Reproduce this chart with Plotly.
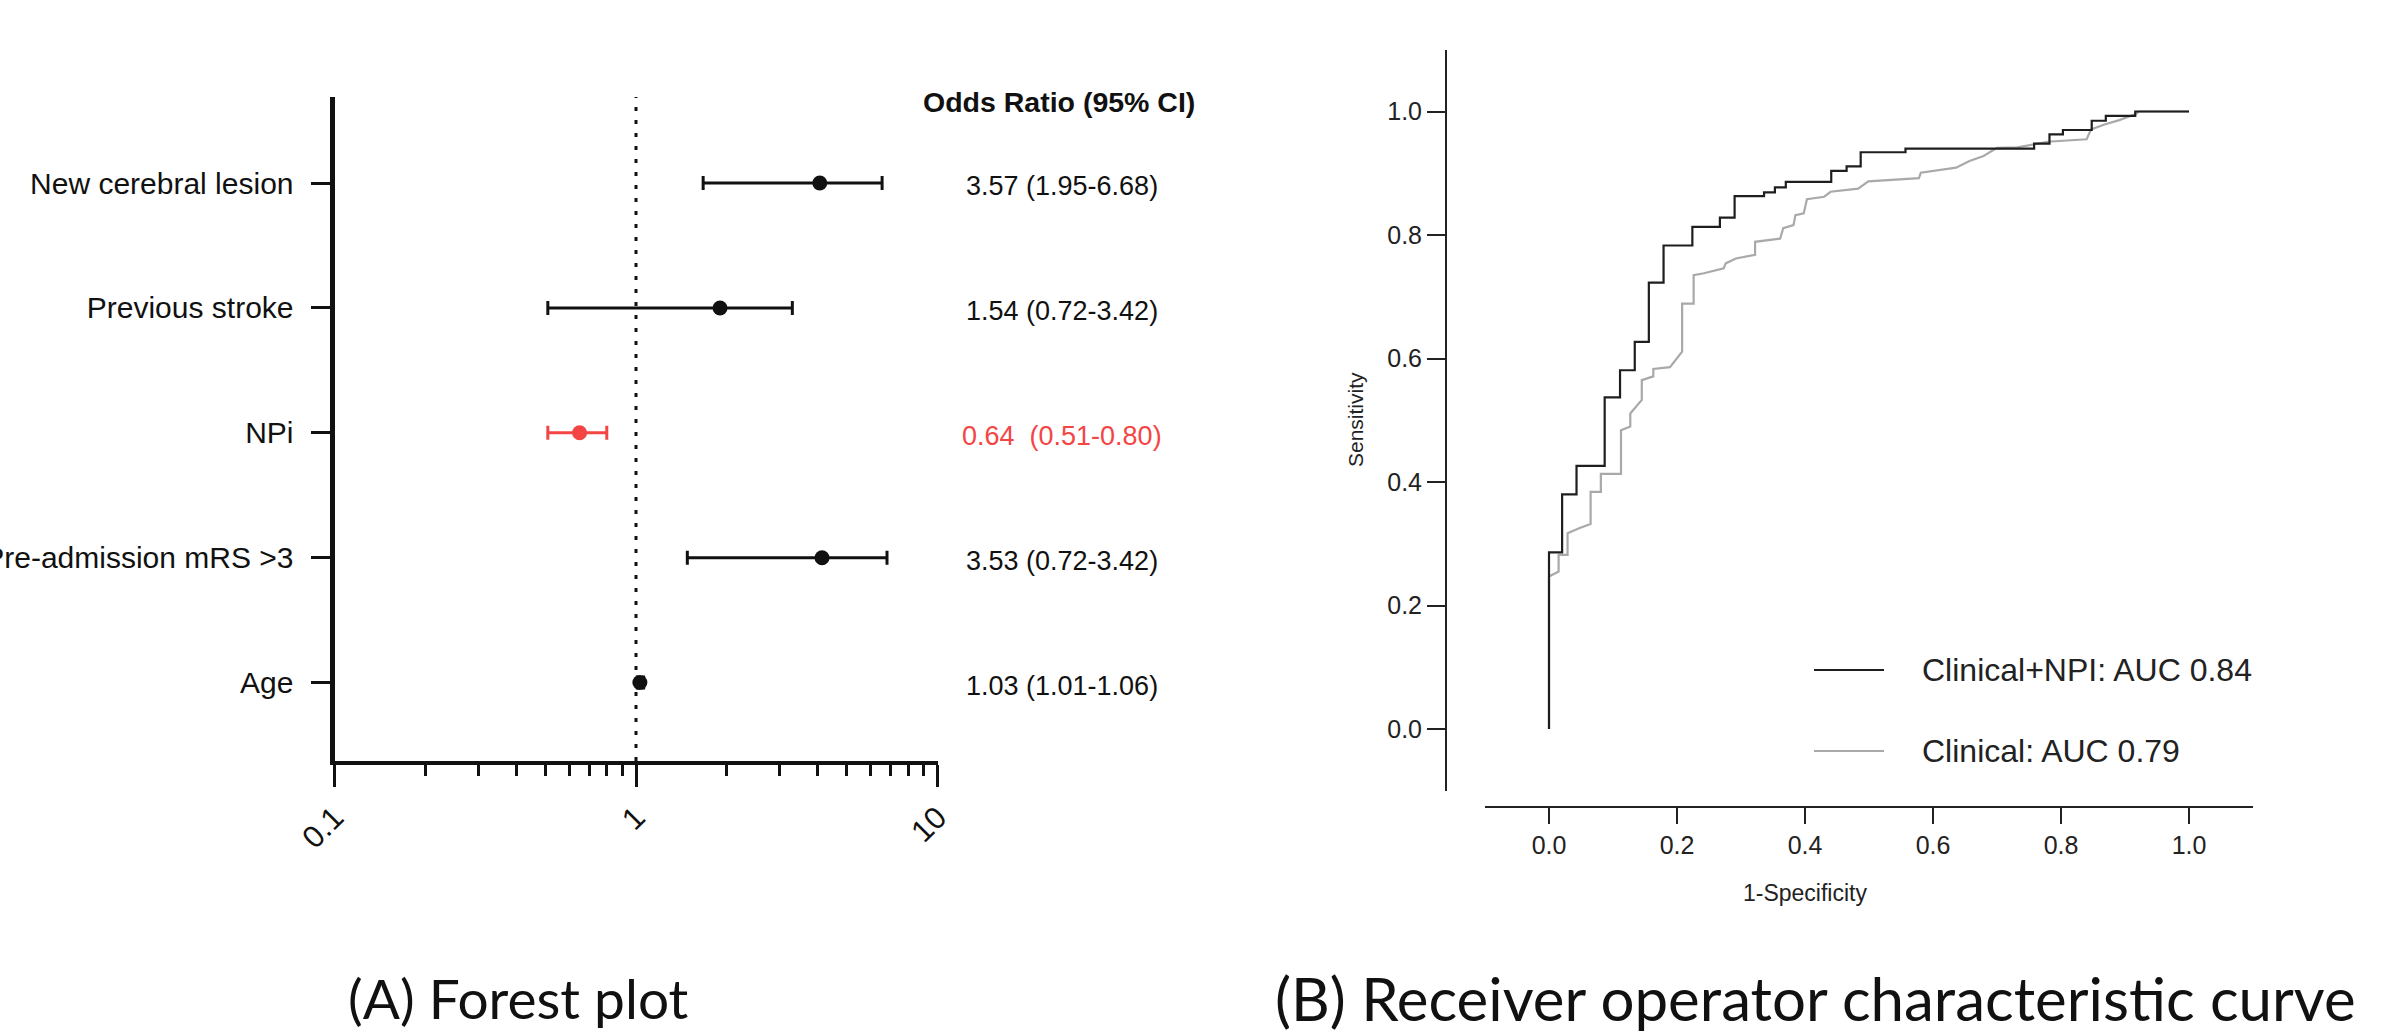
import plotly.graph_objects as go

W, H = 2386, 1036

# ---------------- Forest plot data ----------------
factors = ["New cerebral lesion", "Previous stroke", "NPi", "Pre-admission mRS >3", "Age"]
or_point = [4.07, 1.90, 0.65, 4.14, 1.03]
ci_low = [1.67, 0.51, 0.51, 1.48, 1.01]
ci_high = [6.55, 3.30, 0.80, 6.80, 1.06]
or_labels = ["3.57 (1.95-6.68)", "1.54 (0.72-3.42)", "0.64  (0.51-0.80)",
             "3.53 (0.72-3.42)", "1.03 (1.01-1.06)"]
highlight = [False, False, True, False, False]
forest_ticks = [0.1, 1, 10]
forest_ticktext = ["0.1", "1", "10"]
forest_minor = [0.2, 0.3, 0.4, 0.5, 0.6, 0.7, 0.8, 0.9, 2, 3, 4, 5, 6, 7, 8, 9]

# ---------------- ROC data ----------------
# Clinical+NPI (step curve: at each fpr the sensitivity jumps to tpr)
roc1_fpr = [0, 0, 0.0205, 0.043, 0.087, 0.111, 0.134, 0.156, 0.179, 0.224, 0.267,
            0.290, 0.336, 0.353, 0.370, 0.441, 0.465, 0.487, 0.557, 0.758, 0.782,
            0.803, 0.848, 0.870, 0.916, 1.0]
roc1_tpr = [0, 0.286, 0.380, 0.426, 0.537, 0.581, 0.627, 0.723, 0.783, 0.813, 0.828,
            0.863, 0.869, 0.877, 0.886, 0.904, 0.911, 0.934, 0.940, 0.948, 0.963,
            0.970, 0.985, 0.993, 1.0, 1.0]
# Clinical
roc2_fpr = [0, 0, 0.015, 0.015, 0.029, 0.029, 0.047, 0.065, 0.065, 0.081, 0.081,
            0.1125, 0.1125, 0.127, 0.127, 0.145, 0.145, 0.163, 0.163, 0.189, 0.208,
            0.208, 0.226, 0.226, 0.242, 0.273, 0.276, 0.292, 0.322, 0.322, 0.361,
            0.366, 0.382, 0.385, 0.398, 0.403, 0.430, 0.440, 0.483, 0.499, 0.578,
            0.581, 0.636, 0.657, 0.679, 0.700, 0.732, 0.779, 0.840, 0.847, 0.868,
            0.891, 0.917, 0.922, 1.0]
roc2_tpr = [0, 0.247, 0.255, 0.282, 0.282, 0.317, 0.325, 0.332, 0.384, 0.384, 0.413,
            0.413, 0.484, 0.490, 0.511, 0.533, 0.565, 0.571, 0.583, 0.586, 0.611,
            0.689, 0.689, 0.735, 0.738, 0.746, 0.754, 0.762, 0.768, 0.789, 0.794,
            0.811, 0.816, 0.832, 0.835, 0.858, 0.862, 0.870, 0.875, 0.887, 0.892,
            0.901, 0.909, 0.920, 0.928, 0.941, 0.942, 0.951, 0.955, 0.971, 0.979,
            0.986, 0.996, 1.0, 1.0]
roc_names = ["Clinical+NPI: AUC 0.84", "Clinical: AUC 0.79"]
roc_ticks = [0.0, 0.2, 0.4, 0.6, 0.8, 1.0]

BLACK = "#111111"
RED = "#F44545"
DARK = "#1e1e1e"
GRAY = "#a9a9a9"
ARIAL = "Liberation Sans, Arial, sans-serif"


def px(x):
    return x / W


def py(y):
    return 1 - y / H


fig = go.Figure()

# Forest plot points with CI
for i, name in enumerate(factors):
    col = RED if highlight[i] else BLACK
    fig.add_trace(go.Scatter(
        x=[or_point[i]], y=[i], mode="markers", name=name,
        marker=dict(color=col, size=15, line=dict(width=0)),
        error_x=dict(type="data", symmetric=False,
                     array=[ci_high[i] - or_point[i]],
                     arrayminus=[or_point[i] - ci_low[i]],
                     color=col, thickness=3, width=7),
        xaxis="x", yaxis="y", showlegend=False,
    ))

# ROC curves
fig.add_trace(go.Scatter(x=roc2_fpr, y=roc2_tpr, mode="lines", name=roc_names[1],
                         line=dict(color=GRAY, width=2.2),
                         xaxis="x2", yaxis="y2", showlegend=False))
fig.add_trace(go.Scatter(x=roc1_fpr, y=roc1_tpr, mode="lines", name=roc_names[0],
                         line=dict(color=DARK, width=2.2, shape="hv"),
                         xaxis="x2", yaxis="y2", showlegend=False))

# Reference line at OR = 1
fig.add_shape(type="line", xref="x", yref="y domain", x0=1, x1=1, y0=0, y1=1,
              line=dict(color=BLACK, width=3, dash="4px,9px"), layer="below")

annotations = []
# OR labels
annotations.append(dict(text="<b>Odds Ratio (95% CI)</b>", x=px(1059), y=py(102),
                        xref="paper", yref="paper", showarrow=False,
                        xanchor="center", yanchor="middle",
                        font=dict(family=ARIAL, size=28.5, color=BLACK)))
for i, lab in enumerate(or_labels):
    annotations.append(dict(text=lab, x=px(1062), y=i, xref="paper", yref="y",
                            showarrow=False, xanchor="center", yanchor="middle",
                            yshift=-3,
                            font=dict(family=ARIAL, size=27,
                                      color=RED if highlight[i] else BLACK)))

# ROC axis titles
annotations.append(dict(text="Sensitivity", x=px(1355), y=py(420), xref="paper",
                        yref="paper", showarrow=False, textangle=-90,
                        font=dict(family=ARIAL, size=21, color="#222222")))
annotations.append(dict(text="1-Specificity", x=px(1869), y=py(893), xref="paper",
                        yref="paper", showarrow=False, yanchor="middle",
                        font=dict(family=ARIAL, size=23, color="#222222")))

# ROC legend (manual)
leg_y = [670, 751]
leg_col = [DARK, GRAY]
for k in range(2):
    fig.add_shape(type="line", xref="paper", yref="paper",
                  x0=px(1814), x1=px(1884), y0=py(leg_y[k]), y1=py(leg_y[k]),
                  line=dict(color=leg_col[k], width=2.2))
    annotations.append(dict(text=roc_names[k], x=px(1920), y=py(leg_y[k]),
                            xref="paper", yref="paper", showarrow=False,
                            xanchor="left", yanchor="middle",
                            font=dict(family=ARIAL, size=32, color="#222222")))

# Captions
annotations.append(dict(text="(A) Forest plot", x=px(518), y=py(998), xref="paper",
                        yref="paper", showarrow=False, xanchor="center",
                        yanchor="middle", font=dict(family="Lato", size=55, color="#111")))
annotations.append(dict(text="(B) Receiver operator characteristic curve", x=px(1815),
                        y=py(998), xref="paper", yref="paper", showarrow=False,
                        xanchor="center", yanchor="middle",
                        font=dict(family="Lato", size=60, color="#111")))

fig.update_layout(
    width=W, height=H,
    margin=dict(l=0, r=0, t=0, b=0, autoexpand=False),
    paper_bgcolor="white", plot_bgcolor="white",
    annotations=annotations,
    xaxis=dict(
        type="log", domain=[px(334.5), px(937.5)], range=[-1, 1],
        anchor="y", showline=True, linewidth=4, linecolor=BLACK,
        tickvals=forest_ticks, ticktext=forest_ticktext, tickangle=-45,
        ticks="outside", ticklen=22, tickwidth=3, tickcolor=BLACK,
        tickfont=dict(family=ARIAL, size=31, color=BLACK),
        minor=dict(tickvals=forest_minor, ticks="outside", ticklen=11,
                   tickwidth=3, tickcolor=BLACK, showgrid=False),
        showgrid=False, zeroline=False, automargin=False,
    ),
    yaxis=dict(
        domain=[py(761), py(97)], range=[4.628, -0.689], anchor="x",
        showline=True, linewidth=5, linecolor=BLACK,
        tickvals=list(range(len(factors))), ticktext=factors,
        ticks="outside", ticklen=19, tickwidth=3, tickcolor=BLACK,
        ticklabelstandoff=11,
        tickfont=dict(family=ARIAL, size=30, color=BLACK),
        showgrid=False, zeroline=False, automargin=False,
    ),
    xaxis2=dict(
        domain=[px(1485), px(2253)], range=[-0.1, 1.1], anchor="free",
        position=py(807), showline=True, linewidth=2, linecolor="#222",
        tickvals=roc_ticks, tickformat=".1f", ticks="outside", ticklen=16,
        tickwidth=2, tickcolor="#222",
        tickfont=dict(family=ARIAL, size=25, color="#222"),
        showgrid=False, zeroline=False, automargin=False,
    ),
    yaxis2=dict(
        domain=[py(790.75), py(49.75)], range=[-0.1, 1.1], anchor="free",
        position=px(1446), showline=True, linewidth=2, linecolor="#222",
        tickvals=roc_ticks, tickformat=".1f", ticks="outside", ticklen=18,
        tickwidth=2, tickcolor="#222",
        tickfont=dict(family=ARIAL, size=25, color="#222"),
        showgrid=False, zeroline=False, automargin=False,
    ),
)

fig.write_html("out.html",
               config={"displayModeBar": False},
               post_script="document.body.style.margin='0';"
                           "document.body.style.overflow='hidden';")
